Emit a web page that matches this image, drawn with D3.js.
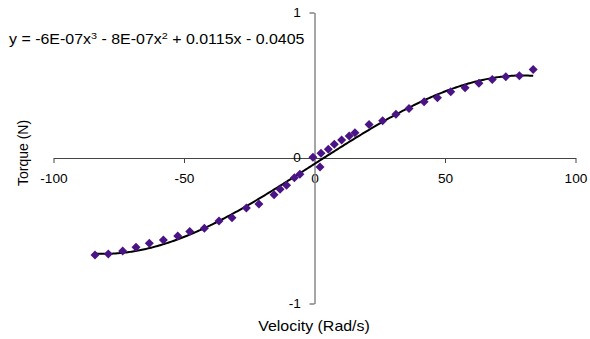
<!DOCTYPE html>
<html>
<head>
<meta charset="utf-8">
<script src="https://cdn.jsdelivr.net/npm/d3@7"></script>
<style>
  html, body { margin: 0; padding: 0; background: #fff; }
  svg { display: block; font-family: 'Liberation Sans', Arial, sans-serif; }
</style>
</head>
<body>
<svg id="chart"></svg>
<script>
const velocity = [
  -84.1, -79.0, -73.5, -68.4, -63.3, -57.9, -52.4, -47.8, -42.2, -36.6,
  -31.6, -26.1, -21.3, -15.5, -13.2, -10.7, -7.7, -5.6, -0.6, 2.5,
  2.1, 5.3, 7.6, 10.4, 13.3, 15.5, 20.9, 26.1, 31.2, 36.2,
  42.0, 47.1, 52.2, 57.7, 63.0, 68.1, 73.3, 78.5, 83.8
]
const torque = [
  -0.666, -0.659, -0.639, -0.613, -0.586, -0.563, -0.536, -0.506, -0.483, -0.433,
  -0.41, -0.343, -0.316, -0.252, -0.215, -0.188, -0.135, -0.112, 0.005, 0.032,
  -0.062, 0.06, 0.094, 0.124, 0.151, 0.174, 0.231, 0.256, 0.3, 0.341,
  0.387, 0.414, 0.455, 0.483, 0.513, 0.54, 0.558, 0.565, 0.609
]
// cubic trendline, highest power first
const trendCoefs = [-6e-7, -8e-7, 0.0115, -0.0405]
const xTicks = [-100, -50, 0, 50, 100]
const yTicks = [-1, 0, 1]

const w = 590
const h = 339
// text in the original is a bit stretched sideways
const sx = 1.14

const svg = d3.select('#chart').attr('width', w).attr('height', h)

const x = d3.scaleLinear().domain([-100, 100]).range([53.5, 575.5])
const y = d3.scaleLinear().domain([-1, 1]).range([303.5, 12.5])
const fmt = (d) => String(d)

// x axis
const xAxis = svg
  .append('g')
  .attr('transform', `translate(0,${y(0)})`)
  .call(d3.axisBottom(x).tickValues(xTicks).tickFormat(fmt).tickSize(5).tickSizeOuter(0).tickPadding(11))
xAxis.select('.domain').attr('stroke', '#444')
xAxis.selectAll('.tick line').attr('stroke', '#444')
xAxis
  .selectAll('text')
  .attr('font-size', 12)
  .attr('fill', '#000')
  .attr('font-family', null)
  .attr('transform', `scale(${sx},1)`)

// y axis
const yAxis = svg
  .append('g')
  .attr('transform', `translate(${x(0)},0)`)
  .call(d3.axisLeft(y).tickValues(yTicks).tickFormat(fmt).tickSize(5).tickSizeOuter(0).tickPadding(7))
yAxis.select('.domain').attr('stroke', '#888').attr('stroke-width', 1.5)
yAxis.selectAll('.tick line').attr('stroke', '#444')
yAxis
  .selectAll('text')
  .attr('font-size', 12)
  .attr('fill', '#000')
  .attr('font-family', null)
  .attr('transform', `scale(${sx},1)`)

// trendline
const poly = (v) => trendCoefs.reduce((acc, c) => acc * v + c, 0)
const xExtent = d3.extent(velocity)
const trend = d3.range(xExtent[0], xExtent[1], 0.5).concat([xExtent[1]])
svg
  .append('path')
  .datum(trend)
  .attr('fill', 'none')
  .attr('stroke', '#000')
  .attr('stroke-width', 2)
  .attr('d', d3.line().x((d) => x(d)).y((d) => y(poly(d))))

// points
const r = 4.5
svg
  .append('g')
  .selectAll('path')
  .data(velocity.map((v, i) => [v, torque[i]]))
  .join('path')
  .attr('fill', '#4b1486')
  .attr('d', (d) => {
    const cx = x(d[0])
    const cy = y(d[1])
    return `M${cx},${cy - r}L${cx + r},${cy}L${cx},${cy + r}L${cx - r},${cy}Z`
  })

// equation + titles
svg
  .append('text')
  .attr('transform', `translate(9,44) scale(${sx},1)`)
  .attr('font-size', 14)
  .html('y = -6E-07x<tspan dy="-5" font-size="9.5">3</tspan><tspan dy="5"> - 8E-07x</tspan><tspan dy="-5" font-size="9.5">2</tspan><tspan dy="5"> + 0.0115x - 0.0405</tspan>')

svg
  .append('text')
  .attr('transform', `translate(28,153) rotate(-90)`)
  .attr('text-anchor', 'middle')
  .attr('font-size', 14)
  .text('Torque (N)')

svg
  .append('text')
  .attr('transform', `translate(314,331) scale(${sx},1)`)
  .attr('text-anchor', 'middle')
  .attr('font-size', 14)
  .text('Velocity (Rad/s)')
</script>
</body>
</html>
